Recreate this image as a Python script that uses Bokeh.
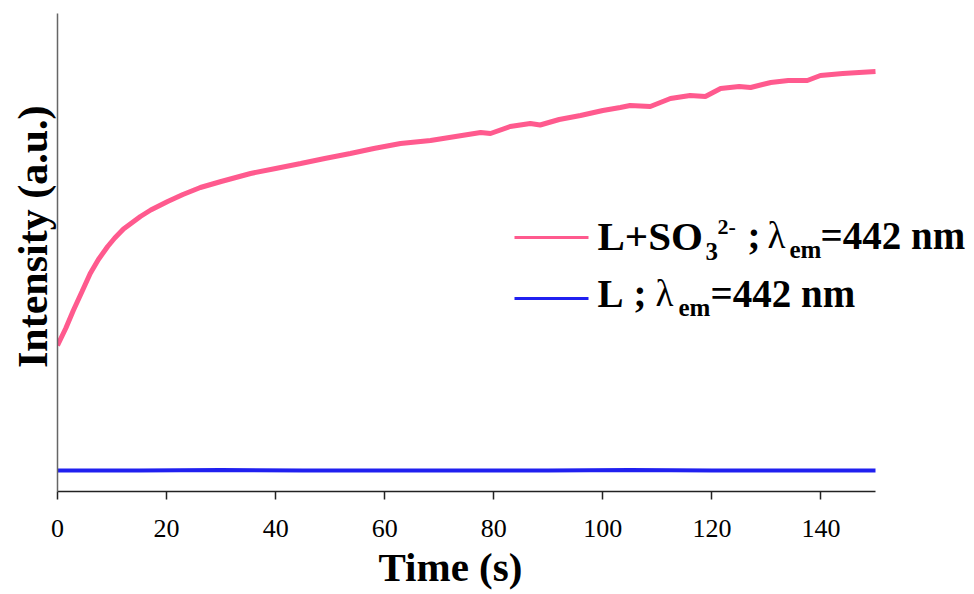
from bokeh.plotting import figure
from bokeh.models import Range1d, FixedTicker, Label, BoxAnnotation, ColumnDataSource, Title
from bokeh.embed import file_html
from bokeh.resources import INLINE

# ---- data ----
time_pink = [0, 1.5, 2.9, 4.5, 6, 7.5, 9.2, 10.5, 12.1, 15.2, 17.1, 20.2, 23, 26.2, 30,
             35.4, 40, 44.6, 49, 53.7, 58, 62.9, 68.4, 73, 77.6, 79.4, 83, 86.7, 88.5,
             92, 95.9, 100, 103.2, 105, 108.7, 112.4, 116, 118.8, 121.6, 125, 127.1,
             130.8, 134, 137.5, 139.9, 144, 147, 150]
intensity_pink = [292, 326, 362, 400, 436, 464, 490, 507, 525, 550, 563, 580, 594, 608, 620,
                  636, 646, 656, 666, 676, 686, 696, 702, 710, 718, 716, 730, 736, 733,
                  744, 752, 762, 768, 772, 770, 786, 792, 790, 806, 810, 808,
                  818, 822, 822, 832, 836, 838, 840]
time_blue = [0, 15, 30, 45, 60, 75, 90, 105, 120, 135, 150]
intensity_blue = [42, 42, 43, 42, 42, 42, 42, 43, 42, 42, 42]
x_ticks = [0, 20, 40, 60, 80, 100, 120, 140]

PINK = "#FF5A8E"
BLUE = "#2020F0"
SERIF = "Liberation Serif"

X_END = 150 + 95 / (818 / 150)  # extra room on the right so the legend text is not clipped

p = figure(width=974, height=594, output_backend="svg", toolbar_location=None,
           x_range=Range1d(0, X_END), y_range=Range1d(0, 956),
           min_border_left=57, min_border_right=4, min_border_top=13, min_border_bottom=103)
p.outline_line_color = None
p.grid.grid_line_color = None
p.background_fill_color = "white"
p.border_fill_color = "white"

src_p = ColumnDataSource(dict(t=time_pink, v=intensity_pink))
src_b = ColumnDataSource(dict(t=time_blue, v=intensity_blue))
p.line("t", "v", source=src_p, line_color=PINK, line_width=5)
p.line("t", "v", source=src_b, line_color=BLUE, line_width=4)

# x axis
xa = p.xaxis[0]
xa.ticker = FixedTicker(ticks=x_ticks)
xa.bounds = (0, 150)
xa.axis_line_color = "#222222"
xa.axis_line_width = 1.5
xa.major_tick_line_color = "#222222"
xa.major_tick_line_width = 1.5
xa.major_tick_out = 8
xa.major_tick_in = 0
xa.minor_tick_line_color = None
xa.major_label_text_font = SERIF
xa.major_label_text_font_size = "26px"
xa.major_label_text_color = "black"
xa.major_label_standoff = 20

# x axis title, centred under the 0-150 span of the axis
p.add_layout(Title(text="Time (s)", align="left", offset=321, standoff=5,
                   text_font=SERIF, text_font_style="bold", text_font_size="41px",
                   text_color="black"), "below")

# y axis
ya = p.yaxis[0]
ya.ticker = FixedTicker(ticks=[])
ya.axis_line_color = "#666666"
ya.axis_line_width = 1.5
ya.major_tick_line_color = None
ya.minor_tick_line_color = None
ya.major_label_text_font_size = "0px"
ya.axis_label = "\u00a0\u00a0\u00a0Intensity (a.u.)"
ya.axis_label_text_font = SERIF
ya.axis_label_text_font_style = "bold"
ya.axis_label_text_font_size = "42px"
ya.axis_label_text_color = "black"
ya.axis_label_standoff = 2

# ---- legend (drawn manually to allow sub/superscripts) ----
FL, FB = 57, 491  # frame left / bottom in page pixels


def sx(px):
    return px - FL


def sy(py):
    return FB - py


for color, py in [(PINK, 237), (BLUE, 298)]:
    p.add_layout(BoxAnnotation(left=sx(514), right=sx(588), bottom=sy(py + 1.5), top=sy(py - 1.5),
                               left_units="screen", right_units="screen",
                               bottom_units="screen", top_units="screen",
                               fill_color=color, fill_alpha=1, line_color=None))

DY = -12
pieces = [
    # text, x, baseline y, size, style
    ("L+SO", 597, 247, 41, "bold"),
    ("3", 705, 263, 25, "bold"),
    ("2-", 717, 238, 22, "bold"),
    (";", 747, 247, 39, "bold"),
    ("λ", 767, 247, 37, "normal"),
    ("em", 789, 261, 25, "bold"),
    ("=442 nm", 820, 247, 39, "bold"),
    ("L", 597, 305, 39, "bold"),
    (";", 633, 305, 39, "bold"),
    ("λ", 655, 305, 37, "normal"),
    ("em", 678, 319, 25, "bold"),
    ("=442 nm", 710, 305, 39, "bold"),
]
for txt, px, py, size, style in pieces:
    p.add_layout(Label(x=sx(px), y=sy(py + DY), x_units="screen", y_units="screen", text=txt,
                       text_font=SERIF, text_font_size=f"{size}px", text_font_style=style,
                       text_color="black", text_baseline="alphabetic", text_align="left"))

open("out.html", "w").write(file_html(p, INLINE))
